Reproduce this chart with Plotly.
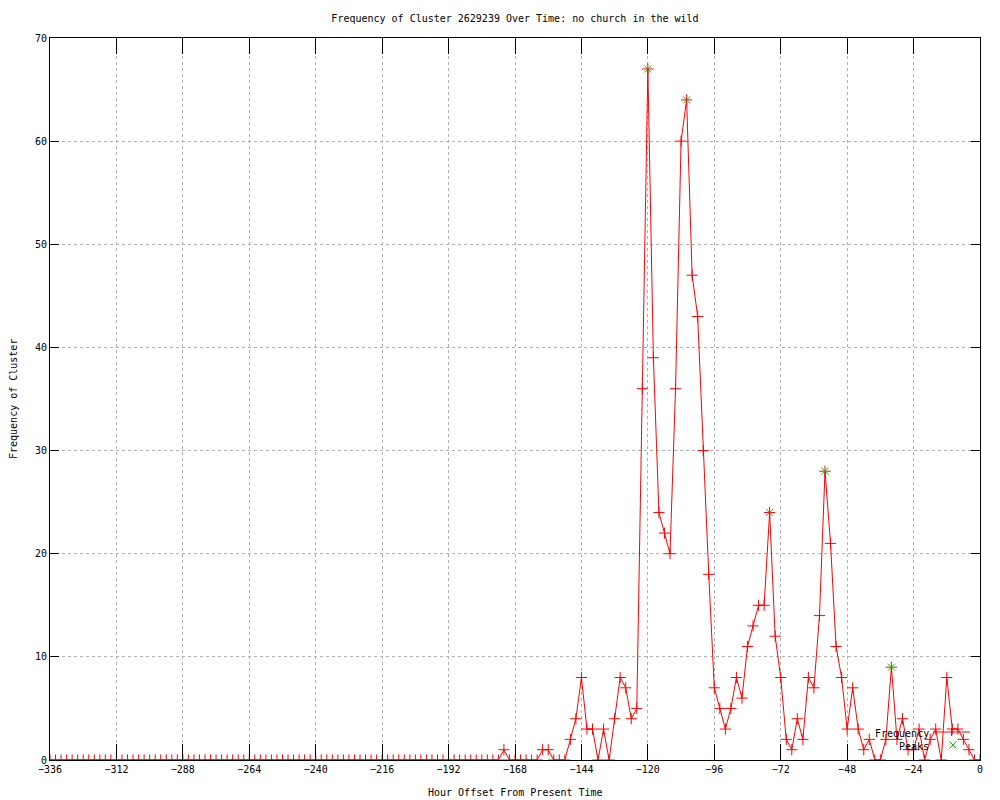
import plotly.graph_objects as go

# hour offsets, one sample every 2 hours
hours = [
    -336, -334, -332, -330, -328, -326, -324, -322, -320, -318, -316, -314, -312, -310, -308, -306,
    -304, -302, -300, -298, -296, -294, -292, -290, -288, -286, -284, -282, -280, -278, -276, -274,
    -272, -270, -268, -266, -264, -262, -260, -258, -256, -254, -252, -250, -248, -246, -244, -242,
    -240, -238, -236, -234, -232, -230, -228, -226, -224, -222, -220, -218, -216, -214, -212, -210,
    -208, -206, -204, -202, -200, -198, -196, -194, -192, -190, -188, -186, -184, -182, -180, -178,
    -176, -174, -172, -170, -168, -166, -164, -162, -160, -158, -156, -154, -152, -150, -148, -146,
    -144, -142, -140, -138, -136, -134, -132, -130, -128, -126, -124, -122, -120, -118, -116, -114,
    -112, -110, -108, -106, -104, -102, -100, -98, -96, -94, -92, -90, -88, -86, -84, -82,
    -80, -78, -76, -74, -72, -70, -68, -66, -64, -62, -60, -58, -56, -54, -52, -50,
    -48, -46, -44, -42, -40, -38, -36, -34, -32, -30, -28, -26, -24, -22, -20, -18,
    -16, -14, -12, -10, -8, -6, -4, -2, 0,
]
frequency = [
    0, 0, 0, 0, 0, 0, 0, 0, 0, 0, 0, 0, 0, 0, 0, 0,
    0, 0, 0, 0, 0, 0, 0, 0, 0, 0, 0, 0, 0, 0, 0, 0,
    0, 0, 0, 0, 0, 0, 0, 0, 0, 0, 0, 0, 0, 0, 0, 0,
    0, 0, 0, 0, 0, 0, 0, 0, 0, 0, 0, 0, 0, 0, 0, 0,
    0, 0, 0, 0, 0, 0, 0, 0, 0, 0, 0, 0, 0, 0, 0, 0,
    0, 0, 1, 0, 0, 0, 0, 0, 0, 1, 1, 0, 0, 0, 2, 4,
    8, 3, 3, 0, 3, 0, 4, 8, 7, 4, 5, 36, 67, 39, 24, 22,
    20, 36, 60, 64, 47, 43, 30, 18, 7, 5, 3, 5, 8, 6, 11, 13,
    15, 15, 24, 12, 8, 2, 1, 4, 2, 8, 7, 14, 28, 21, 11, 8,
    3, 7, 3, 1, 2, 0, 0, 2, 9, 2, 4, 1, 1, 3, 0, 2,
    3, 0, 8, 3, 3, 2, 1, 0, 0,
]

peak_hours = [-120, -106, -76, -56, -32]
peak_values = [67, 64, 24, 28, 9]

x_ticks = [-336, -312, -288, -264, -240, -216, -192, -168, -144, -120, -96, -72, -48, -24, 0]
y_ticks = [0, 10, 20, 30, 40, 50, 60, 70]

FONT = dict(family="DejaVu Sans Mono", size=10, color="black")

fig = go.Figure()
fig.add_trace(
    go.Scatter(
        x=hours,
        y=frequency,
        mode="lines+markers",
        name="Frequency",
        line=dict(color="red", width=1),
        marker=dict(symbol="cross-thin", size=8, line=dict(color="red", width=1)),
    )
)
fig.add_trace(
    go.Scatter(
        x=peak_hours,
        y=peak_values,
        mode="markers",
        name="Peaks",
        marker=dict(symbol="x-thin", size=7, line=dict(color="#00c000", width=1)),
    )
)

axis_common = dict(
    showline=True,
    linecolor="black",
    linewidth=1,
    mirror="ticks",
    ticks="inside",
    tickcolor="black",
    showgrid=True,
    gridcolor="#b0b0b0",
    griddash="3px,3px",
    gridwidth=1,
    zeroline=False,
    automargin=False,
    tickfont=FONT,
)

# the page body adds an 8px offset, so margins are shifted to compensate
fig.update_layout(
    width=1000,
    height=800,
    paper_bgcolor="white",
    plot_bgcolor="white",
    margin=dict(l=42, r=28, t=30, b=48, autoexpand=False),
    showlegend=False,
    font=FONT,
    title=dict(
        text="Frequency of Cluster 2629239 Over Time: no church in the wild",
        x=0.507,
        xanchor="center",
        y=1 - 10 / 800,
        yanchor="middle",
        font=FONT,
    ),
    xaxis=dict(range=[-336, 0], tickvals=x_ticks, ticklen=16, **axis_common),
    yaxis=dict(range=[0, 70], tickvals=y_ticks, ticklen=9, **axis_common),
)

# axis titles
fig.add_annotation(
    text="Hour Offset From Present Time", xref="paper", yref="paper",
    x=0.5, y=-32 / 722, yanchor="middle", showarrow=False, font=FONT,
)
fig.add_annotation(
    text="Frequency of Cluster", xref="paper", yref="paper",
    x=-37 / 930, y=0.5, xanchor="center", textangle=-90, showarrow=False, font=FONT,
)

# gnuplot-style key: text on the left, sample on the right
def px(x):
    return (x - 50) / 930


def py(y):
    return (760 - y) / 722


fig.add_annotation(
    text="Frequency", xref="paper", yref="paper", x=px(931), y=py(733),
    xanchor="right", yanchor="middle", showarrow=False, font=FONT,
)
fig.add_annotation(
    text="Peaks", xref="paper", yref="paper", x=px(931), y=py(746),
    xanchor="right", yanchor="middle", showarrow=False, font=FONT,
)
fig.add_shape(type="line", xref="paper", yref="paper",
              x0=px(933), x1=px(970), y0=py(732), y1=py(732),
              line=dict(color="red", width=1))
fig.add_shape(type="line", xref="paper", yref="paper",
              x0=px(951.5), x1=px(951.5), y0=py(728), y1=py(736),
              line=dict(color="red", width=1))
fig.add_shape(type="line", xref="paper", yref="paper",
              x0=px(949.5), x1=px(956.5), y0=py(741.5), y1=py(748.5),
              line=dict(color="#00c000", width=1))
fig.add_shape(type="line", xref="paper", yref="paper",
              x0=px(949.5), x1=px(956.5), y0=py(748.5), y1=py(741.5),
              line=dict(color="#00c000", width=1))

fig.write_html("out.html")
